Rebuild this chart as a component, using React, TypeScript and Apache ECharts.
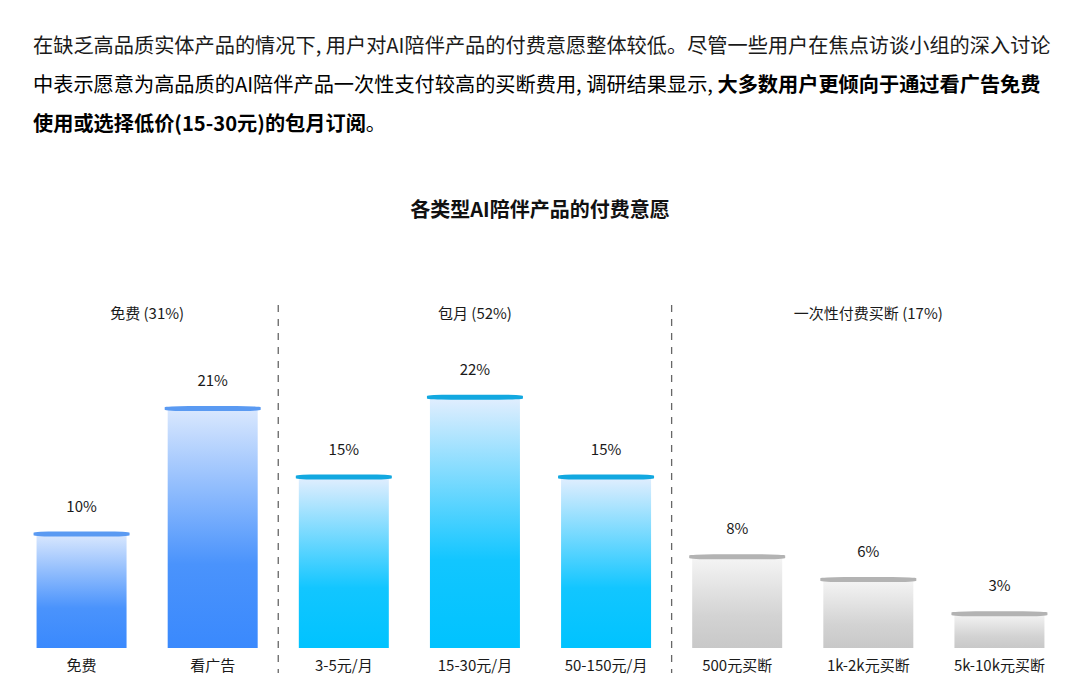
import * as echarts from 'echarts';
import { useEffect, useRef } from 'react';

const FONT = '"Noto Sans CJK SC", "Noto Sans", sans-serif';

const PARAGRAPH_LINE1 = '在缺乏高品质实体产品的情况下, 用户对AI陪伴产品的付费意愿整体较低。尽管一些用户在焦点访谈小组的深入讨论';
const PARAGRAPH_LINE2_NORMAL = '中表示愿意为高品质的AI陪伴产品一次性支付较高的买断费用, 调研结果显示, ';
const PARAGRAPH_LINE2_BOLD = '大多数用户更倾向于通过看广告免费';
const PARAGRAPH_LINE3_BOLD = '使用或选择低价(15-30元)的包月订阅';
const PARAGRAPH_LINE3_NORMAL = '。';

const TITLE = '各类型AI陪伴产品的付费意愿';

const CATEGORIES = ['免费', '看广告', '3-5元/月', '15-30元/月', '50-150元/月', '500元买断', '1k-2k元买断', '5k-10k元买断'];
const VALUES = [10, 21, 15, 22, 15, 8, 6, 3];
const GROUP_NAMES = ['免费 (31%)', '包月 (52%)', '一次性付费买断 (17%)'];
const GROUP_SIZES = [2, 3, 3];

const GROUP_STYLES = [
  { stops: ['#dae8fe', '#4a93fc', '#3a89fd'], cap: '#5a9af2' },
  { stops: ['#e2eefe', '#12c6ff', '#00c3ff'], cap: '#12a8e0' },
  { stops: ['#f5f5f5', '#d3d3d3', '#c8c8c8'], cap: '#b3b3b3' },
];

// which group each bar belongs to
const groupOf = (idx: number) => {
  let acc = 0;
  for (let g = 0; g < GROUP_SIZES.length; g++) {
    acc += GROUP_SIZES[g];
    if (idx < acc) return g;
  }
  return GROUP_SIZES.length - 1;
};

export default function App() {
  const chartRef = useRef<HTMLDivElement>(null);

  useEffect(() => {
    if (!chartRef.current) return;
    document.body.style.margin = '0';
    const chart = echarts.init(chartRef.current, null, { renderer: 'svg' });

    const barData = VALUES.map((v, i) => {
      const s = GROUP_STYLES[groupOf(i)];
      return {
        value: v,
        itemStyle: {
          color: new echarts.graphic.LinearGradient(0, 0, 0, 1, [
            { offset: 0, color: s.stops[0] },
            { offset: 0.65, color: s.stops[1] },
            { offset: 1, color: s.stops[2] },
          ]),
        },
      };
    });

    const capData = VALUES.map((v, i) => ({
      value: v,
      itemStyle: { color: GROUP_STYLES[groupOf(i)].cap, opacity: 1 },
    }));

    chart.setOption({
      animation: false,
      backgroundColor: '#ffffff',
      textStyle: { fontFamily: FONT },
      title: {
        text: TITLE,
        left: 'center',
        top: 193,
        textStyle: { fontSize: 20, fontWeight: 'bold', color: '#111', fontFamily: FONT },
      },
      grid: { left: 16, right: 15, top: 306, bottom: 51 },
      xAxis: {
        type: 'category',
        data: CATEGORIES,
        axisLine: { show: false },
        axisTick: { show: false },
        axisLabel: { color: '#1a1a1a', fontSize: 15, margin: 9, fontFamily: FONT, interval: 0 },
      },
      yAxis: {
        type: 'value',
        min: 0,
        max: 30,
        show: false,
        splitLine: { show: false },
      },
      series: [
        {
          type: 'bar',
          data: barData,
          barWidth: 90,
          z: 2,
        },
        {
          type: 'scatter',
          data: capData,
          symbol: 'roundRect',
          symbolSize: [96, 5],
          z: 3,
          itemStyle: { opacity: 1 },
          label: {
            show: true,
            position: 'top',
            distance: 19,
            formatter: '{c}%',
            color: '#1a1a1a',
            fontSize: 15,
            fontFamily: FONT,
          },
        },
      ],
    });

    // annotations placed from the axis scale
    const centers = CATEGORIES.map(c => chart.convertToPixel({ xAxisIndex: 0 }, c) as number);
    const graphics: any[] = [];
    let start = 0;
    GROUP_SIZES.forEach((size, g) => {
      const xs = centers.slice(start, start + size);
      const cx = (xs[0] + xs[xs.length - 1]) / 2;
      graphics.push({
        type: 'text',
        x: cx,
        y: 312,
        style: {
          text: GROUP_NAMES[g],
          fill: '#1a1a1a',
          font: `15px ${FONT}`,
          align: 'center',
          verticalAlign: 'middle',
        },
      });
      if (g > 0) {
        const bx = (centers[start - 1] + centers[start]) / 2;
        graphics.push({
          type: 'line',
          shape: { x1: bx, y1: 305, x2: bx, y2: 673 },
          style: { stroke: '#666', lineWidth: 1.3, lineDash: [7, 7] },
        });
      }
      start += size;
    });

    graphics.push(
      {
        type: 'text',
        x: 33,
        y: 44,
        style: {
          text: PARAGRAPH_LINE1,
          fill: '#1a1a1a',
          font: `20.2px ${FONT}`,
          verticalAlign: 'middle',
        },
      },
      {
        type: 'text',
        x: 33,
        y: 83,
        style: {
          text: `{n|${PARAGRAPH_LINE2_NORMAL}}{b|${PARAGRAPH_LINE2_BOLD}}`,
          verticalAlign: 'middle',
          rich: {
            n: { fontSize: 20.2, fontFamily: FONT, color: '#1a1a1a' },
            b: { fontSize: 20.2, fontFamily: FONT, color: '#111', fontWeight: 'bold' },
          },
        },
      },
      {
        type: 'text',
        x: 33,
        y: 122,
        style: {
          text: `{b|${PARAGRAPH_LINE3_BOLD}}{n|${PARAGRAPH_LINE3_NORMAL}}`,
          verticalAlign: 'middle',
          rich: {
            n: { fontSize: 20.2, fontFamily: FONT, color: '#1a1a1a' },
            b: { fontSize: 20.2, fontFamily: FONT, color: '#111', fontWeight: 'bold' },
          },
        },
      },
    );

    chart.setOption({ graphic: graphics });

    return () => {
      chart.dispose();
    };
  }, []);

  return <div ref={chartRef} style={{ width: 1080, height: 699 }} />;
}
